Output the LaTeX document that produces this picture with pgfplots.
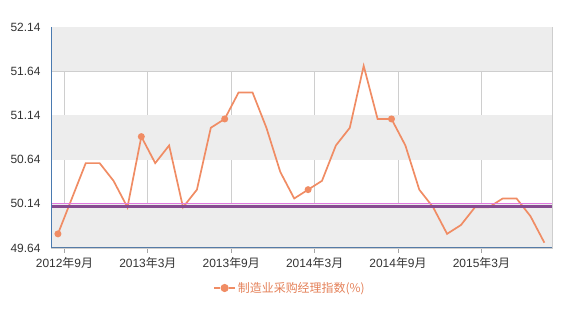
\documentclass[border=0pt]{standalone}
\usepackage{pgfplots}
\pgfplotsset{compat=1.18}
\usepackage{fontspec}
\setmainfont{Liberation Sans}
\newfontfamily\cjk{Noto Sans CJK SC}
\definecolor{pmi}{RGB}{240,140,100}
\definecolor{pmitext}{RGB}{228,128,88}
\definecolor{refl}{RGB}{135,75,145}
\definecolor{refedge}{RGB}{225,120,225}
\definecolor{axblue}{RGB}{74,122,176}
\definecolor{band}{RGB}{237,237,237}
\definecolor{gridc}{RGB}{206,206,206}
\definecolor{txt}{RGB}{51,51,51}
\begin{document}
\begin{tikzpicture}
\begin{axis}[
  set layers,
  at={(51bp,70bp)}, anchor=south west,
  scale only axis, width=501bp, height=221bp,
  xmin=-0.5, xmax=35.55, ymin=49.64, ymax=52.14,
  xtick={0.47,6.47,12.47,18.47,24.47,30.47},
  xticklabels={2012{\cjk 年}9{\cjk 月},2013{\cjk 年}3{\cjk 月},2013{\cjk 年}9{\cjk 月},2014{\cjk 年}3{\cjk 月},2014{\cjk 年}9{\cjk 月},2015{\cjk 年}3{\cjk 月}},
  ytick={49.64,50.14,50.64,51.14,51.64,52.14},
  yticklabels={49.64,50.14,50.64,51.14,51.64,52.14},
  ticklabel style={font=\fontsize{12}{14}\selectfont, text=txt},
  xticklabel style={yshift=-1bp},
  yticklabel style={xshift=-2bp},
  xtick pos=bottom, ytick pos=left,
  tick align=outside,
  major tick length=5bp,
  xtick style={draw=gray!70, line width=0.8bp},
  ytick style={draw=none},
  grid=major,
  major grid style={draw=gridc, line width=0.8bp},
  axis line style={draw=gridc, line width=0.8bp},
  legend style={at={(0.477,-0.181)}, anchor=center, draw=none, fill=none,
    font=\fontsize{12}{14}\selectfont\cjk, text=pmitext, inner sep=1bp},
  legend image code/.code={
    \draw[pmi, line width=1.6bp] (0bp,0bp) -- (6bp,0bp);
    \draw[pmi, line width=1.6bp] (15bp,0bp) -- (21bp,0bp);
    \fill[pmi] (10.5bp,0bp) circle (3.2bp);
  },
]
\fill[band, on layer=axis background] (axis cs:-0.5,49.64) rectangle (axis cs:35.55,50.14);
\fill[band, on layer=axis background] (axis cs:-0.5,50.64) rectangle (axis cs:35.55,51.14);
\fill[band, on layer=axis background] (axis cs:-0.5,51.64) rectangle (axis cs:35.55,52.14);

\addplot[pmi, line width=1.7bp, mark=*, mark size=2.6bp, mark indices={1,7,13,19,25},
  mark options={fill=pmi, draw=pmi}] coordinates {
(0,49.8) (1,50.2) (2,50.6) (3,50.6) (4,50.4) (5,50.1)
(6,50.9) (7,50.6) (8,50.8) (9,50.1) (10,50.3) (11,51.0)
(12,51.1) (13,51.4) (14,51.4) (15,51.0) (16,50.5) (17,50.2)
(18,50.3) (19,50.4) (20,50.8) (21,51.0) (22,51.7) (23,51.1)
(24,51.1) (25,50.8) (26,50.3) (27,50.1) (28,49.8) (29,49.9)
(30,50.1) (31,50.1) (32,50.2) (33,50.2) (34,50.0) (35,49.7)
};
\addlegendentry{制造业采购经理指数(\%)}

\addplot[refedge, line width=1bp, forget plot] coordinates {(-0.5,50.14) (35.55,50.14)};
\addplot[refl, line width=3.3bp, forget plot] coordinates {(-0.5,50.113) (35.55,50.113)};

\draw[axblue, line width=2bp] (rel axis cs:0,0) -- (rel axis cs:0,1);
\draw[axblue!80!gray, line width=1.6bp] (rel axis cs:0,0) -- (rel axis cs:1,0);
\end{axis}
\path (0,0) rectangle (584bp,318bp);
\end{tikzpicture}
\end{document}
